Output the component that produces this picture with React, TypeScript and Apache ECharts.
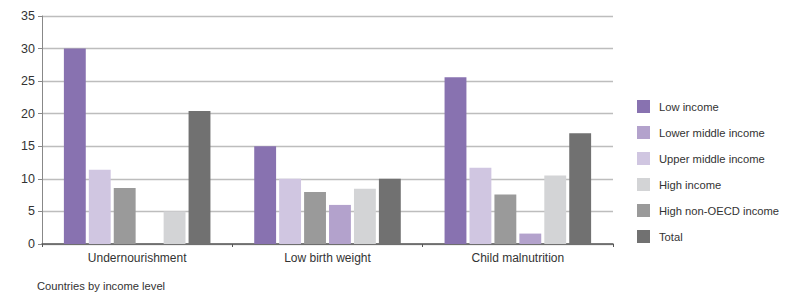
import React, { useEffect, useRef } from "react";
import * as echarts from "echarts";

const categories = ["Undernourishment", "Low birth weight", "Child malnutrition"];
const lowIncome = [30, 15, 25.6];
const upperMiddle = [11.4, 10, 11.7];
const highNonOECD = [8.6, 8, 7.6];
const lowerMiddle = [null, 6, 1.6];
const highIncome = [5, 8.5, 10.5];
const total = [20.4, 10, 17];
const legendOrder = ["Low income", "Lower middle income", "Upper middle income", "High income", "High non-OECD income", "Total"];
const yTicks = { min: 0, max: 35, interval: 5 };

const FONT = "'Liberation Sans', Arial, sans-serif";

export default function App() {
  const ref = useRef<HTMLDivElement>(null);
  useEffect(() => {
    if (!ref.current) return;
    const chart = echarts.init(ref.current, undefined, { renderer: "svg" });
    const mk = (name: string, data: (number | null)[], color: string) => ({
      name,
      type: "bar",
      data,
      itemStyle: { color },
      barGap: "14%",
      barCategoryGap: "23%",
    });
    chart.setOption({
      animation: false,
      textStyle: { fontFamily: FONT },
      grid: { left: 42, right: 174, top: 16, bottom: 54 },
      legend: {
        orient: "vertical",
        left: 637,
        top: 100,
        padding: 0,
        itemWidth: 13,
        itemHeight: 13,
        itemGap: 13,
        icon: "rect",
        data: legendOrder,
        textStyle: { fontFamily: FONT, fontSize: 11.2, color: "#333", padding: [0, 0, 0, 4] },
      },
      xAxis: {
        type: "category",
        data: categories,
        axisLine: { lineStyle: { color: "#555", width: 1.5 } },
        axisTick: { show: true, length: 3, lineStyle: { color: "#555" } },
        axisLabel: { fontFamily: FONT, fontSize: 12, color: "#333", margin: 8 },
        name: "Countries by income level",
        nameLocation: "start",
        nameGap: 0,
        nameTextStyle: {
          fontFamily: FONT,
          fontSize: 11.2,
          color: "#333",
          align: "left",
          verticalAlign: "top",
          padding: [36, 0, 0, -5],
        },
      },
      yAxis: {
        type: "value",
        min: yTicks.min,
        max: yTicks.max,
        interval: yTicks.interval,
        axisLine: { show: true, lineStyle: { color: "#888" } },
        axisTick: { show: true, length: 4, lineStyle: { color: "#888" } },
        axisLabel: { fontFamily: FONT, fontSize: 12.5, color: "#333", margin: 7 },
        splitLine: { lineStyle: { color: "#bdbdbd", width: 1.3 } },
      },
      series: [
        mk("Low income", lowIncome, "#8872b0"),
        mk("Upper middle income", upperMiddle, "#d0c6e1"),
        mk("High non-OECD income", highNonOECD, "#9a9a9a"),
        mk("Lower middle income", lowerMiddle, "#b3a2cc"),
        mk("High income", highIncome, "#d3d4d6"),
        mk("Total", total, "#717171"),
      ],
    });
    return () => chart.dispose();
  }, []);
  return <div ref={ref} style={{ width: 787, height: 298, position: "absolute", left: 0, top: 0 }} />;
}
